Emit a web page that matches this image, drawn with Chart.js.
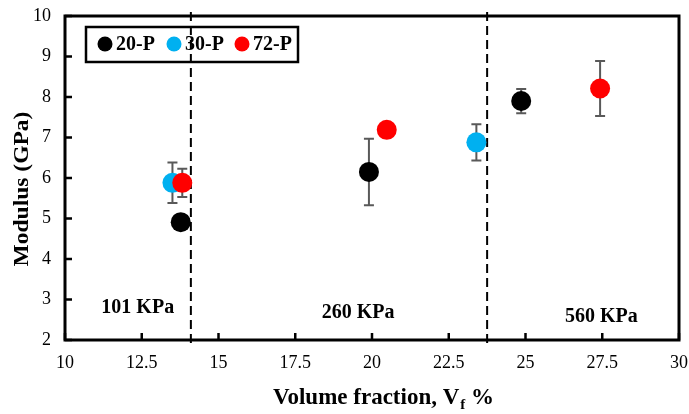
<!DOCTYPE html>
<html>
<head>
<meta charset="utf-8">
<script src="https://cdn.jsdelivr.net/npm/chart.js@4.4.1/dist/chart.umd.min.js"></script>
<style>
  html, body { margin: 0; padding: 0; background: #fff; }
  #wrap { width: 689px; height: 414px; }
</style>
</head>
<body>
<div id="wrap"><canvas id="modChart" width="689" height="414"></canvas></div>
<script>
// DATA
const seriesNames = ["20-P", "30-P", "72-P"];
const seriesColors = ["#000000", "#00B0F0", "#FF0000"];

const vf20 = [13.77, 19.9, 24.86];
const mod20 = [4.91, 6.15, 7.9];
const err20 = [0.1, 0.82, 0.3];

const vf30 = [13.5, 23.4];
const mod30 = [5.88, 6.88];
const err30 = [0.5, 0.45];

const vf72 = [13.82, 20.48, 27.43];
const mod72 = [5.88, 7.19, 8.21];
const err72 = [0.35, 0, 0.68];

const xTicks = [10, 12.5, 15, 17.5, 20, 22.5, 25, 27.5, 30];
const yTicks = [2, 3, 4, 5, 6, 7, 8, 9, 10];

// pressure regions: dashed boundaries and labels
const boundaries = [14.1, 23.75];
const regionNames = ["101 KPa", "260 KPa", "560 KPa"];
const regionX = [12.37, 19.55, 27.47];
const regionY = [2.79, 2.67, 2.57];

function toPoints(xs, ys) {
  return xs.map((x, i) => ({ x: x, y: ys[i] }));
}

const allVf = [vf20, vf30, vf72];
const allMod = [mod20, mod30, mod72];
const allErr = [err20, err30, err72];

const serif = "'Liberation Serif', 'Times New Roman', serif";

// PLUGIN: frame, ticks, error bars, dashed lines, texts
const extras = {
  id: "extras",
  beforeDatasetsDraw(chart) {
    const ctx = chart.ctx;
    const xs = chart.scales.x, ys = chart.scales.y;
    ctx.save();
    // error bars
    ctx.strokeStyle = "#595959";
    ctx.lineWidth = 2;
    allVf.forEach((vfs, s) => {
      vfs.forEach((v, i) => {
        const e = allErr[s][i];
        if (!e) return;
        const px = xs.getPixelForValue(v);
        const top = ys.getPixelForValue(allMod[s][i] + e);
        const bot = ys.getPixelForValue(allMod[s][i] - e);
        ctx.beginPath();
        ctx.moveTo(px, top); ctx.lineTo(px, bot);
        ctx.moveTo(px - 5, top); ctx.lineTo(px + 5, top);
        ctx.moveTo(px - 5, bot); ctx.lineTo(px + 5, bot);
        ctx.stroke();
      });
    });
    // dashed boundaries
    ctx.strokeStyle = "#000";
    ctx.lineWidth = 2;
    ctx.setLineDash([9, 5]);
    boundaries.forEach(b => {
      const px = xs.getPixelForValue(b);
      ctx.beginPath();
      ctx.moveTo(px, chart.chartArea.top - 4);
      ctx.lineTo(px, chart.chartArea.bottom + 6);
      ctx.stroke();
    });
    ctx.setLineDash([]);
    ctx.restore();
  },
  afterDraw(chart) {
    const ctx = chart.ctx;
    const a = chart.chartArea;
    const xs = chart.scales.x, ys = chart.scales.y;
    ctx.save();
    // inner ticks
    ctx.strokeStyle = "#000";
    ctx.lineWidth = 2.5;
    ctx.beginPath();
    xTicks.forEach(t => {
      const px = xs.getPixelForValue(t);
      ctx.moveTo(px, a.bottom); ctx.lineTo(px, a.bottom - 7);
    });
    yTicks.forEach(t => {
      const py = ys.getPixelForValue(t);
      ctx.moveTo(a.left, py); ctx.lineTo(a.left + 7, py);
    });
    ctx.stroke();
    // frame
    ctx.lineWidth = 3;
    ctx.strokeRect(a.left, a.top, a.right - a.left, a.bottom - a.top);

    // region labels
    ctx.fillStyle = "#000";
    ctx.font = "bold 20px " + serif;
    ctx.textAlign = "center";
    ctx.textBaseline = "middle";
    regionNames.forEach((n, i) => {
      ctx.fillText(n, xs.getPixelForValue(regionX[i]), ys.getPixelForValue(regionY[i]));
    });

    // legend
    ctx.lineWidth = 2.5;
    ctx.strokeRect(86, 27, 212, 35);
    const legX = [105, 174, 242];
    ctx.font = "bold 20px " + serif;
    ctx.textAlign = "left";
    seriesNames.forEach((n, i) => {
      ctx.fillStyle = seriesColors[i];
      ctx.beginPath();
      ctx.arc(legX[i], 44, 7.5, 0, Math.PI * 2);
      ctx.fill();
      ctx.fillStyle = "#000";
      ctx.fillText(n, legX[i] + 11, 45);
    });

    // x title with subscript
    const t1 = "Volume fraction, V";
    const t2 = "f";
    const t3 = " %";
    ctx.font = "bold 23px " + serif;
    const w1 = ctx.measureText(t1).width;
    const w3 = ctx.measureText(t3).width;
    ctx.font = "bold 15px " + serif;
    const w2 = ctx.measureText(t2).width;
    let sx = 383 - (w1 + w2 + w3) / 2;
    ctx.textBaseline = "alphabetic";
    ctx.font = "bold 23px " + serif;
    ctx.fillText(t1, sx, 404);
    ctx.font = "bold 15px " + serif;
    ctx.fillText(t2, sx + w1 + 1, 409);
    ctx.font = "bold 23px " + serif;
    ctx.fillText(t3, sx + w1 + w2 + 1, 404);

    // y title
    ctx.translate(23, 189);
    ctx.rotate(-Math.PI / 2);
    ctx.scale(1.12, 1);
    ctx.textAlign = "center";
    ctx.textBaseline = "middle";
    ctx.font = "bold 21px " + serif;
    ctx.fillText("Modulus (GPa)", 0, 0);
    ctx.restore();
  }
};

// CHART
const datasets = seriesNames.map((name, s) => ({
  label: name,
  data: toPoints(allVf[s], allMod[s]),
  backgroundColor: seriesColors[s],
  borderColor: seriesColors[s],
  pointRadius: 10,
  pointHoverRadius: 10,
  borderWidth: 0,
  order: 3 - s
}));

new Chart(document.getElementById("modChart").getContext("2d"), {
  type: "scatter",
  data: { datasets },
  plugins: [extras],
  options: {
    responsive: false,
    animation: false,
    layout: { padding: { top: 16, right: 8, left: 0, bottom: 0 } },
    plugins: { legend: { display: false }, tooltip: { enabled: false } },
    scales: {
      x: {
        type: "linear",
        min: 10, max: 30,
        afterFit: s => { s.height = 74; s.paddingLeft = 0; s.paddingRight = 0; },
        afterBuildTicks: s => { s.ticks = xTicks.map(v => ({ value: v })); },
        grid: { display: false, drawTicks: false },
        border: { display: false },
        ticks: { color: "#000", padding: 12, font: { family: serif, size: 18 }, maxRotation: 0 }
      },
      y: {
        type: "linear",
        min: 2, max: 10,
        afterFit: s => { s.width = 65; s.paddingTop = 0; s.paddingBottom = 0; },
        afterBuildTicks: s => { s.ticks = yTicks.map(v => ({ value: v })); },
        grid: { display: false, drawTicks: false },
        border: { display: false },
        ticks: { color: "#000", padding: 14, font: { family: serif, size: 18 } }
      }
    }
  }
});
</script>
</body>
</html>
